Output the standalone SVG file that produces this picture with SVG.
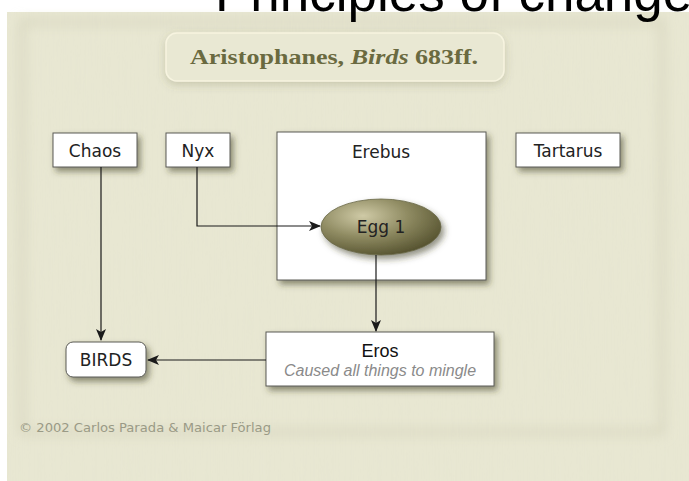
<svg xmlns="http://www.w3.org/2000/svg" width="689" height="481" viewBox="0 0 689 481">
<style>
.node{fill:#ffffff;stroke:#5a5a55;stroke-width:1}
.lbl{font-family:"DejaVu Sans","Open Sans",sans-serif;font-size:17px;fill:#222;text-anchor:middle}
.edge{fill:none;stroke:#1a1a1a;stroke-width:1.2}
</style>
<defs>
<filter id="sh" x="-20%" y="-20%" width="150%" height="160%">
<feDropShadow dx="3" dy="4" stdDeviation="3" flood-color="#3a3a20" flood-opacity="0.55"/>
</filter>
<filter id="sh2" x="-10%" y="-20%" width="120%" height="160%">
<feDropShadow dx="0" dy="3" stdDeviation="4" flood-color="#6a6a40" flood-opacity="0.25"/>
</filter>
<filter id="tex" x="0" y="0" width="100%" height="100%">
<feTurbulence type="fractalNoise" baseFrequency="0.9 0.02" numOctaves="2" seed="3" result="n"/>
<feColorMatrix in="n" type="matrix" values="0 0 0 0 0.55  0 0 0 0 0.55  0 0 0 0 0.45  0 0 0 0.07 0" result="c"/>
<feComposite in="c" in2="SourceGraphic" operator="in"/>
</filter>
<filter id="soft" x="-10%" y="-10%" width="120%" height="120%">
<feGaussianBlur stdDeviation="6"/>
</filter>
<radialGradient id="egg" cx="0.35" cy="0.3" r="0.75">
<stop offset="0" stop-color="#cfcaa6"/>
<stop offset="0.5" stop-color="#8f8b62"/>
<stop offset="1" stop-color="#55522f"/>
</radialGradient>
<marker id="ah" viewBox="0 0 12 10" refX="11" refY="5" markerWidth="12" markerHeight="10" markerUnits="userSpaceOnUse" orient="auto">
<path d="M0,0 L12,5 L0,10 L3,5 z" fill="#1a1a1a"/>
</marker>
</defs>

<rect x="0" y="0" width="689" height="481" fill="#ffffff"/>
<g id="background">
<rect x="7" y="12" width="682" height="469" fill="#e9e8d3"/>
<rect x="22" y="22" width="640" height="410" fill="none" stroke="#d6d4bc" stroke-width="5" filter="url(#soft)"/>
<rect x="7" y="12" width="682" height="469" fill="#ffffff" filter="url(#tex)"/>
</g>
<text x="215" y="11" font-family="'Liberation Sans',Arial,sans-serif" font-size="53" fill="#000">Principles of change</text>

<g id="title">
<rect x="166" y="33" width="338" height="48" rx="11" fill="#e9e8d3" stroke="#f7f4e0" stroke-width="1.5" filter="url(#sh2)"/>
<text x="334" y="64" text-anchor="middle" font-family="'Liberation Serif','Times New Roman',serif" font-size="21" font-weight="bold" fill="#6a6a40" textLength="288" lengthAdjust="spacingAndGlyphs">Aristophanes, <tspan font-style="italic">Birds</tspan> 683ff.</text>
</g>

<g id="chaos">
<rect class="node" x="53" y="133" width="84" height="34" filter="url(#sh)"/>
<text class="lbl" x="95" y="157">Chaos</text>
</g>
<g id="nyx">
<rect class="node" x="166" y="133" width="64" height="34" filter="url(#sh)"/>
<text class="lbl" x="198" y="157">Nyx</text>
</g>
<g id="erebus">
<rect class="node" x="277" y="132" width="209" height="148" filter="url(#sh)"/>
<text class="lbl" x="381" y="158">Erebus</text>
</g>
<g id="tartarus">
<rect class="node" x="516" y="133" width="104" height="34" filter="url(#sh)"/>
<text class="lbl" x="568" y="157">Tartarus</text>
</g>
<g id="egg1">
<ellipse cx="381" cy="227" rx="60" ry="28" fill="url(#egg)" stroke="#6a6848" stroke-width="0.8" filter="url(#sh)"/>
<text class="lbl" x="381" y="233">Egg 1</text>
</g>
<g id="eros">
<rect class="node" x="266" y="332" width="228" height="54" filter="url(#sh)"/>
<text x="380" y="357" text-anchor="middle" font-family="'Liberation Sans',Arial,sans-serif" font-size="18" fill="#111">Eros</text>
<text x="380" y="376" text-anchor="middle" font-family="'Liberation Sans',Arial,sans-serif" font-size="16" font-style="italic" fill="#8a8a8a">Caused all things to mingle</text>
</g>
<g id="birds">
<rect class="node" x="66" y="342" width="80" height="35" rx="7" filter="url(#sh)"/>
<text class="lbl" x="106" y="366">BIRDS</text>
</g>

<g id="connectors">
<path class="edge" d="M101,167 V340" marker-end="url(#ah)"/>
<path class="edge" d="M197,167 V226 H320" marker-end="url(#ah)"/>
<path class="edge" d="M376,255 V331" marker-end="url(#ah)"/>
<path class="edge" d="M266,360 H148" marker-end="url(#ah)"/>
</g>

<text x="19" y="432" font-family="'Liberation Sans Narrow','DejaVu Sans Condensed','Liberation Sans',sans-serif" font-size="12" fill="#9a9a86" textLength="252" lengthAdjust="spacingAndGlyphs">© 2002 Carlos Parada &amp; Maicar Förlag</text>
</svg>
